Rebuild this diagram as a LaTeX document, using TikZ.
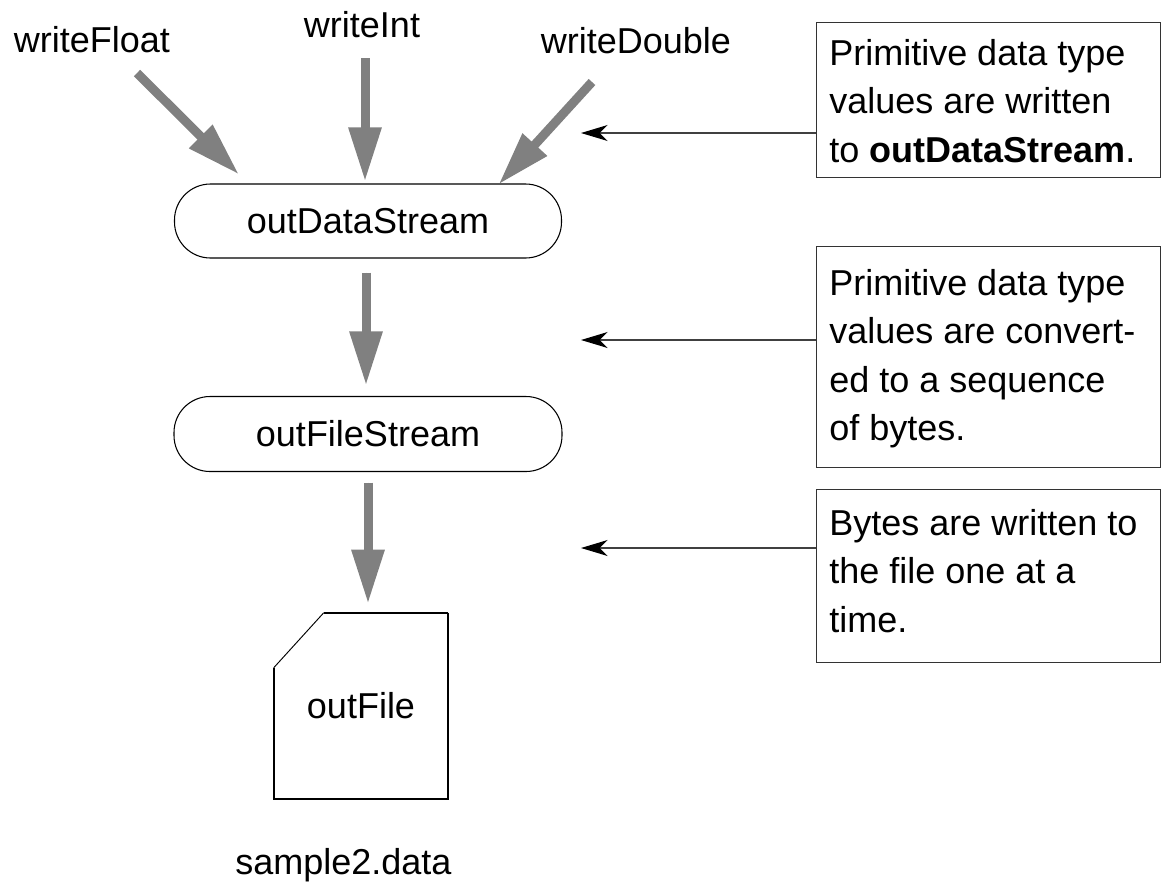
\documentclass[tikz,border=0pt]{standalone}
\usepackage{fontspec}
\setmainfont{Liberation Sans}
\usetikzlibrary{arrows.meta}
\definecolor{arrowgray}{RGB}{128,128,128}
\tikzset{
  lbl/.style={font=\fontsize{27}{36.4}\selectfont, inner sep=0pt},
  pill/.style={draw=black, line width=0.8pt, rounded corners=27pt, font=\fontsize{27}{36.4}\selectfont, inner sep=0pt},
  bigarrow/.style={draw=arrowgray, line width=6.75pt, -{Triangle[length=40.5pt,width=23.25pt]}, fill=arrowgray},
  thinarrow/.style={draw=black!75, line width=0.9pt, -{Stealth[length=20pt,width=12pt,inset=6pt,color=black]}},
  notebox/.style={draw=black!80, line width=0.9pt, inner sep=0pt, anchor=north west},
  notetext/.style={font=\fontsize{27}{36.4}\selectfont, inner sep=0pt, anchor=north west, align=left},
  filebox/.style={inner sep=0pt, font=\fontsize{27}{36.4}\selectfont}
}
\begin{document}
\begin{tikzpicture}[x=0.75pt,y=-0.75pt]
\useasboundingbox (0,0) rectangle (1163,883);
% top labels
\node[lbl, anchor=base] (wFloat) at (92,52) {writeFloat};
\node[lbl, anchor=base] (wInt) at (362,37) {writeInt};
\node[lbl, anchor=base] (wDouble) at (636,53) {writeDouble};
% streams
\node[pill, minimum width=387*0.75pt, minimum height=74*0.75pt] (dstream) at (368,221) {outDataStream};
\node[pill, minimum width=388*0.75pt, minimum height=75*0.75pt] (fstream) at (368,434) {outFileStream};
% file
\node[filebox, minimum width=174*0.75pt, minimum height=186*0.75pt] (file) at (361,706) {outFile};
\draw[line width=1.2pt] (file.north east) -- (file.south east) -- (file.south west) -- ([shift={(0,55)}]file.north west);
\draw[line width=0.7pt] ([shift={(0,55)}]file.north west) -- ([shift={(50,0)}]file.north west);
\draw[line width=1.2pt] ([shift={(50,0)}]file.north west) -- (file.north east);
\node[lbl, anchor=base west] (fname) at (235,874) {sample2.data};
% big arrows
\draw[bigarrow] ([shift={(45,21)}]wFloat.base) -- ([shift={(65,-9)}]dstream.north west);
\draw[bigarrow] ([shift={(3,21)}]wInt.base) -- ([shift={(-3,-2)}]dstream.north);
\draw[bigarrow] ([shift={(-44,29)}]wDouble.base) -- ([shift={(-63.5,1)}]dstream.north east);
\draw[bigarrow] ([shift={(-2,14)}]dstream.south) -- ([shift={(-2,-10.5)}]fstream.north);
\draw[bigarrow] ([shift={(0,10.5)}]fstream.south) -- ([shift={(7,-9)}]file.north);
% note boxes
\node[notebox, minimum width=344*0.75pt, minimum height=155*0.75pt] (b1) at (816,22) {};
\node[notetext] (t1) at (829,39) {Primitive data type\\values are written\\to \textbf{outDataStream}.};
\node[notebox, minimum width=344*0.75pt, minimum height=221*0.75pt] (b2) at (816,246) {};
\node[notetext] (t2) at (829,269) {Primitive data type\\values are convert-\\ed to a sequence\\of bytes.};
\node[notebox, minimum width=344*0.75pt, minimum height=173*0.75pt] (b3) at (816,489) {};
\node[notetext] (t3) at (829,509) {Bytes are written to\\the file one at a\\time.};
% thin arrows
\coordinate (a1) at (581,133);
\coordinate (a2) at (581,340);
\coordinate (a3) at (581,548);
\draw[thinarrow] (b1.west |- a1) -- (a1);
\draw[thinarrow] (b2.west |- a2) -- (a2);
\draw[thinarrow] (b3.west |- a3) -- (a3);
\end{tikzpicture}
\end{document}
